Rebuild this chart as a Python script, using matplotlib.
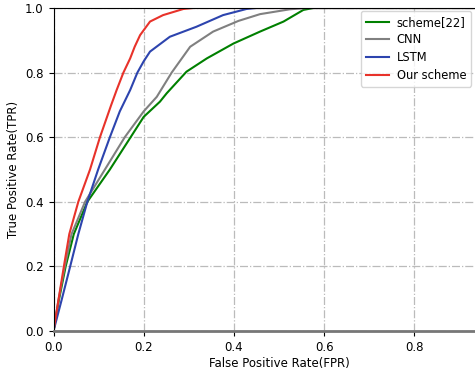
import matplotlib.pyplot as plt

plt.rcParams['font.family'] = 'DejaVu Sans'
plt.rcParams['font.size'] = 8.5

# ROC curves
fpr_s22 = [0.0, 0.012, 0.027, 0.045, 0.075, 0.125, 0.171, 0.2, 0.236, 0.251, 0.295, 0.34, 0.399, 0.458, 0.51, 0.554, 0.576, 1.0]
tpr_s22 = [0.0, 0.096, 0.2, 0.3, 0.4, 0.5, 0.6, 0.663, 0.71, 0.736, 0.803, 0.844, 0.89, 0.927, 0.958, 0.994, 1.0, 1.0]

fpr_cnn = [0.0, 0.011, 0.025, 0.04, 0.07, 0.114, 0.158, 0.2, 0.229, 0.262, 0.303, 0.354, 0.41, 0.458, 0.524, 0.561, 1.0]
tpr_cnn = [0.0, 0.096, 0.2, 0.3, 0.4, 0.5, 0.6, 0.68, 0.725, 0.8, 0.88, 0.927, 0.96, 0.981, 0.996, 1.0, 1.0]

fpr_lstm = [0.0, 0.018, 0.037, 0.055, 0.075, 0.099, 0.125, 0.147, 0.17, 0.186, 0.2, 0.214, 0.258, 0.317, 0.376, 0.428, 0.45, 1.0]
tpr_lstm = [0.0, 0.096, 0.2, 0.3, 0.4, 0.5, 0.6, 0.68, 0.746, 0.8, 0.835, 0.865, 0.911, 0.942, 0.978, 0.997, 1.0, 1.0]

fpr_ours = [0.0, 0.011, 0.023, 0.035, 0.055, 0.081, 0.103, 0.128, 0.14, 0.155, 0.17, 0.18, 0.192, 0.214, 0.243, 0.288, 0.31, 1.0]
tpr_ours = [0.0, 0.096, 0.2, 0.3, 0.4, 0.5, 0.6, 0.7, 0.746, 0.8, 0.844, 0.88, 0.916, 0.958, 0.978, 0.997, 1.0, 1.0]

fig = plt.figure(figsize=(4.75, 3.73), dpi=100)
ax = fig.add_axes([53.5 / 475, 42 / 373, 451 / 475, 323 / 373])

ax.plot(fpr_s22, tpr_s22, color='green', linewidth=1.5, label='scheme[22]')
ax.plot(fpr_cnn, tpr_cnn, color='gray', linewidth=1.5, label='CNN')
ax.plot(fpr_lstm, tpr_lstm, color='#2d44ae', linewidth=1.5, label='LSTM')
ax.plot(fpr_ours, tpr_ours, color='#e8322a', linewidth=1.5, label='Our scheme')

ax.set_xlim(0, 1.0)
ax.set_ylim(0, 1.0)
ax.set_xticks([0.0, 0.2, 0.4, 0.6, 0.8])
ax.set_yticks([0.0, 0.2, 0.4, 0.6, 0.8, 1.0])
ax.grid(True, linestyle='-.', color='#bbbbbb', linewidth=0.9)
ax.spines['bottom'].set_color('#777777')
ax.spines['bottom'].set_linewidth(2)

ax.set_xlabel('False Positive Rate(FPR)', labelpad=2)
ax.set_ylabel('True Positive Rate(TPR)')

ax.legend(loc='upper left', bbox_to_anchor=(361 / 475, 1 - 11 / 373),
          bbox_transform=fig.transFigure, borderaxespad=0, fontsize=8.3,
          labelspacing=0.42, handletextpad=0.7)

fig.savefig('out.png', dpi=100)
